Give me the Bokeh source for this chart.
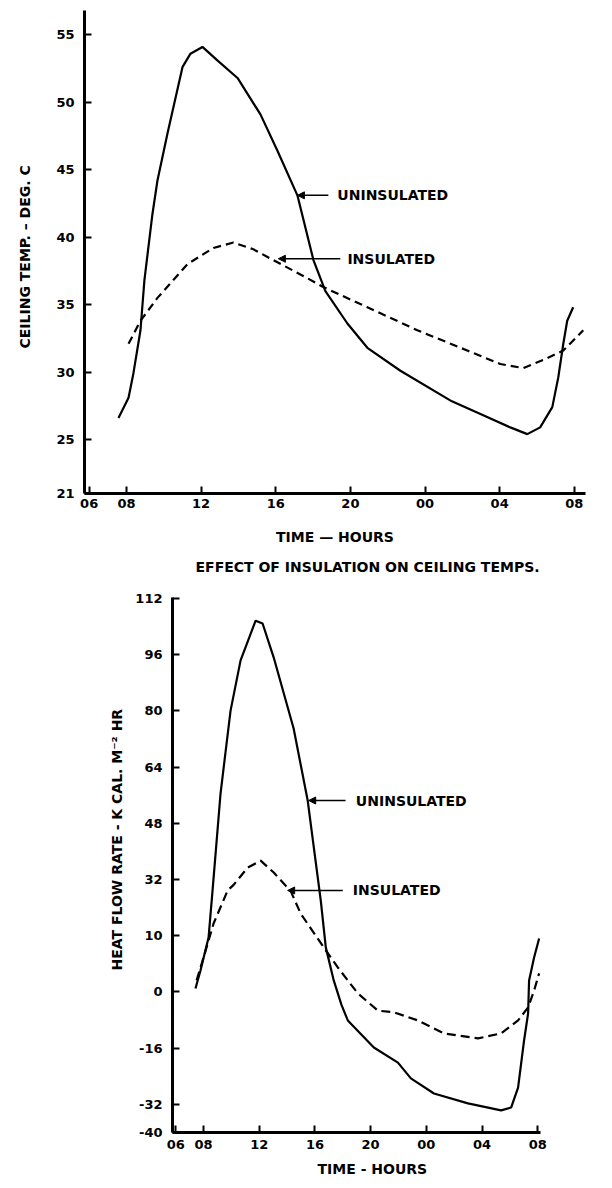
from bokeh.plotting import figure
from bokeh.models import Range1d, Arrow, NormalHead, Label, Title, FixedTicker
from bokeh.embed import file_html
from bokeh.resources import INLINE

# ---------------- data ----------------
# Top chart: ceiling temperature (deg C) vs time (hours, 06 -> 08 next day = 6..32)
top_uninsul_hr = [7.57, 8.11, 8.37, 8.75, 8.96, 9.39, 9.66, 10.2, 11.0, 11.43, 12.07,
                  12.87, 13.95, 15.18, 16.09, 17.16, 18.02, 18.66, 19.84, 20.91, 22.68,
                  25.35, 27.12, 28.57, 29.48, 30.17, 30.82, 31.14, 31.41, 31.62, 31.94]
top_uninsul_t = [26.6, 28.1, 29.9, 33.1, 36.8, 41.7, 44.2, 47.7, 52.6, 53.6, 54.1,
                 53.1, 51.8, 49.1, 46.4, 43.1, 38.3, 36.0, 33.6, 31.8, 30.1,
                 27.9, 26.8, 25.9, 25.4, 25.9, 27.4, 29.6, 32.1, 33.8, 34.8]
top_insul_hr = [8.11, 8.75, 9.66, 11.27, 12.66, 13.73, 14.8, 15.87, 17.64, 18.55,
                20.91, 23.59, 26.26, 28.03, 29.26, 30.34, 31.41, 32.48]
top_insul_t = [32.1, 33.8, 35.5, 38.0, 39.2, 39.6, 39.1, 38.3, 37.0, 36.3,
               34.8, 33.1, 31.6, 30.6, 30.3, 30.9, 31.6, 33.1]

# Bottom chart: heat flow rate (kcal m^-2 hr) vs time
bot_uninsul_hr = [7.42, 7.78, 8.36, 8.68, 9.22, 9.94, 10.66, 11.74, 12.24, 13.04,
                  14.47, 15.48, 16.42, 16.78, 17.35, 17.9, 18.36, 20.23, 21.96, 22.89,
                  24.55, 26.99, 29.37, 30.09, 30.59, 31.02, 31.31, 31.38, 31.74, 32.1]
bot_uninsul_q = [1.0, 6.1, 15.5, 30.5, 56.5, 80.1, 94.4, 105.7, 104.9, 95.2,
                 75.0, 54.5, 26.0, 12.7, 3.3, -3.6, -8.1, -15.8, -20.1, -24.6,
                 -28.9, -31.7, -33.7, -32.9, -27.2, -13.8, -6.1, 3.3, 9.8, 15.2]
bot_insul_hr = [7.5, 8.0, 8.72, 9.73, 10.16, 11.17, 12.1, 13.04, 14.26, 14.98,
                16.63, 17.64, 19.08, 20.52, 21.67, 23.4, 25.27, 27.71, 29.37,
                30.59, 31.31, 31.74, 32.1]
bot_insul_q = [3.3, 9.8, 19.5, 28.9, 30.5, 35.4, 37.4, 34.0, 28.7, 22.3,
               12.7, 7.0, -0.4, -5.3, -5.8, -8.1, -11.8, -13.2, -11.8,
               -8.1, -4.4, 0.4, 5.3]

# Tick labels
x_ticks = [6, 8, 12, 16, 20, 24, 28, 32]
x_tick_labels = ["06", "08", "12", "16", "20", "00", "04", "08"]
top_y_ticks = [21, 25, 30, 35, 40, 45, 50, 55]
bot_y_ticks = [112, 96, 80, 64, 48, 32, 16, 0, -16, -32, -40]
bot_y_labels = ["112", "96", "80", "64", "48", "32", "10", "0", "-16", "-32", "-40"]

FONT = "DejaVu Sans"


def style_axes(p, yticks, ylabels=None):
    p.xaxis.ticker = FixedTicker(ticks=x_ticks)
    p.xaxis.major_label_overrides = {t: l for t, l in zip(x_ticks, x_tick_labels)}
    p.yaxis.ticker = FixedTicker(ticks=yticks)
    if ylabels:
        p.yaxis.major_label_overrides = {t: l for t, l in zip(yticks, ylabels)}
    for ax in (p.xaxis[0], p.yaxis[0]):
        ax.axis_line_width = 3
        ax.axis_line_color = "black"
        ax.major_tick_in = 7
        ax.major_tick_out = 0
        ax.major_tick_line_width = 2
        ax.major_tick_line_color = "black"
        ax.minor_tick_line_color = None
        ax.major_label_text_font = FONT
        ax.major_label_text_font_style = "bold"
        ax.major_label_text_font_size = "13px"
        ax.major_label_text_color = "black"
        ax.axis_label_text_font = FONT
        ax.axis_label_text_font_style = "bold"
        ax.axis_label_text_font_size = "14px"
        ax.axis_label_text_color = "black"
    p.xgrid.grid_line_color = None
    p.ygrid.grid_line_color = None
    p.outline_line_color = None


def add_callout(p, tip_x, tip_y, start_x, text_x, text):
    p.add_layout(Arrow(end=NormalHead(size=7, fill_color="black", line_color="black", line_width=1),
                       x_start=start_x, y_start=tip_y, x_end=tip_x, y_end=tip_y,
                       line_width=1.5, line_color="black"))
    p.add_layout(Label(x=text_x, y=tip_y, text=text, text_baseline="middle",
                       text_font=FONT, text_font_style="bold", text_font_size="14px",
                       text_color="black"))


def text_title(text, offset, standoff):
    return Title(text=text, align="left", offset=offset, standoff=standoff,
                 text_font=FONT, text_font_style="bold", text_font_size="14px",
                 text_color="black")


# ---------------- top chart ----------------
p1 = figure(width=612, height=585, output_backend="svg", toolbar_location=None,
            x_range=Range1d(5.75, 32.6), y_range=Range1d(21, 56.8),
            min_border_left=84, min_border_right=27, min_border_top=10, min_border_bottom=92)
style_axes(p1, top_y_ticks)
p1.xaxis.major_label_standoff = 5
p1.yaxis.major_label_standoff = 10
p1.xaxis.axis_label = "TIME \u2014 HOURS"
p1.xaxis.axis_label_standoff = 18
p1.yaxis.axis_label = "CEILING  TEMP. \u2013 DEG.  C"
p1.yaxis.axis_label_standoff = 20

p1.line(top_uninsul_hr, top_uninsul_t, line_color="black", line_width=2.2)
p1.line(top_insul_hr, top_insul_t, line_color="black", line_width=2.2, line_dash="8 5")

add_callout(p1, 17.16, 43.1, 18.82, 19.3, "UNINSULATED")
add_callout(p1, 16.14, 38.4, 19.46, 19.84, "INSULATED")

p1.add_layout(text_title("EFFECT OF INSULATION ON CEILING TEMPS.", 111, 18), "below")

# ---------------- bottom chart ----------------
p2 = figure(width=612, height=603, output_backend="svg", toolbar_location=None,
            x_range=Range1d(5.77, 32.2), y_range=Range1d(-40, 112.3),
            min_border_left=172, min_border_right=72, min_border_top=12, min_border_bottom=56)
style_axes(p2, bot_y_ticks, bot_y_labels)
p2.xaxis.major_label_standoff = 7
p2.yaxis.major_label_standoff = 10

p2.line(bot_uninsul_hr, bot_uninsul_q, line_color="black", line_width=2.2)
p2.line(bot_insul_hr, bot_insul_q, line_color="black", line_width=2.2, line_dash="9 5")

add_callout(p2, 15.55, 54.5, 18.2, 18.94, "UNINSULATED")
add_callout(p2, 14.04, 28.9, 18.0, 18.72, "INSULATED")

p2.add_layout(text_title("TIME - HOURS", 145, 14), "below")
p2.add_layout(text_title("HEAT  FLOW RATE - K CAL. M\u207b\u00b2 HR", 162, 15), "left")

open("out.html", "w").write(file_html([p1, p2], INLINE))
